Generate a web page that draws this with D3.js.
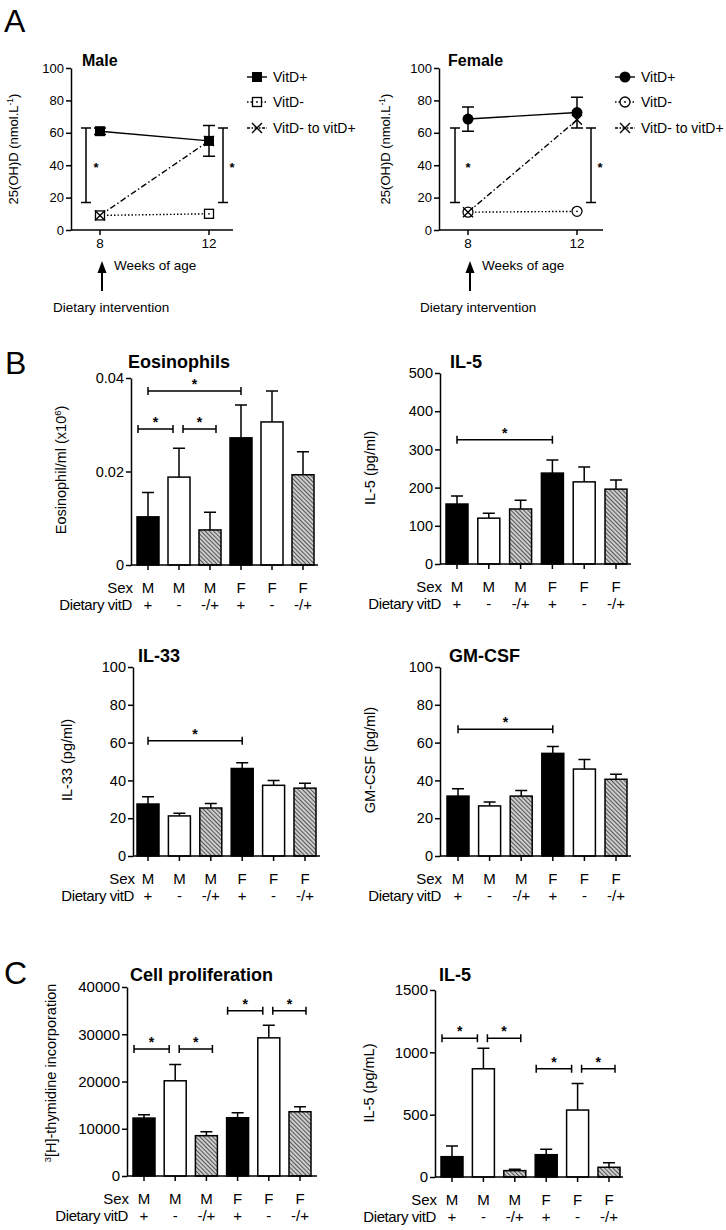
<!DOCTYPE html>
<html><head><meta charset="utf-8">
<script src="https://cdn.jsdelivr.net/npm/d3@7"></script>
<style>
body{margin:0;background:#fff}
svg{display:block}
text{font-family:"Liberation Sans",Arial,Helvetica,sans-serif;fill:#000}
</style>
</head><body>
<svg id="c" width="726" height="1230"></svg>
<script>
// ---------------- DATA ----------------
const weeks = [8, 12];
const maleVitDPlus = [61, 55];
const maleVitDPlusSem = [2, 9.5];
const maleVitDMinus = [9, 10];
const maleSwitch = [9, 55];
const femaleVitDPlus = [68.5, 72.5];
const femaleVitDPlusSem = [7.5, 9.5];
const femaleVitDMinus = [11, 11.5];
const femaleSwitch = [11, 68];
const sigRangeA = [17, 63];
const legendLabels = ["VitD+", "VitD-", "VitD- to vitD+"];
const ticksA = [0, 20, 40, 60, 80, 100];

const sexLabels = ["M", "M", "M", "F", "F", "F"];
const dietLabels = ["+", "-", "-/+", "+", "-", "-/+"];

const eosMean = [0.0103, 0.0188, 0.0075, 0.0272, 0.0306, 0.0193];
const eosSem  = [0.0052, 0.0062, 0.0038, 0.0070, 0.0066, 0.0049];
const eosSig  = [[0, 3, 0.0372], [0, 1, 0.0291], [1, 2, 0.0291]];
const eosTicks = [0, 0.02, 0.04];

const il5Mean = [157, 120, 144, 238, 215, 196];
const il5Sem  = [21, 13, 23, 34, 39, 24];
const il5Sig  = [[0, 3, 325]];
const il5Ticks = [0, 100, 200, 300, 400, 500];

const il33Mean = [27.5, 21.2, 25.4, 46.3, 37.4, 35.9];
const il33Sem  = [3.8, 1.4, 2.4, 3.1, 2.6, 2.6];
const il33Sig  = [[0, 3, 61]];
const il33Ticks = [0, 20, 40, 60, 80, 100];

const gmMean = [31.7, 26.5, 31.7, 54.3, 46.0, 40.6];
const gmSem  = [3.9, 2.1, 3.0, 3.7, 5.0, 2.6];
const gmSig  = [[0, 3, 67]];
const gmTicks = [0, 20, 40, 60, 80, 100];

const prolifMean = [12260, 20150, 8530, 12330, 29240, 13600];
const prolifSem  = [700, 3450, 840, 1050, 2680, 1050];
const prolifSig  = [[0, 1, 26900], [1, 2, 26900], [3, 4, 34950], [4, 5, 34950]];
const prolifTicks = [0, 10000, 20000, 30000, 40000];

const il5cMean = [163, 868, 51, 179, 537, 78];
const il5cSem  = [85, 164, 11, 43, 214, 37];
const il5cSig  = [[0, 1, 1112], [1, 2, 1112], [3, 4, 868], [4, 5, 868]];
const il5cTicks = [0, 500, 1000, 1500];

// ---------------- DRAWING ----------------
const svg = d3.select("#c");
const defs = svg.append("defs");
const pat = defs.append("pattern").attr("id", "hatch")
  .attr("patternUnits", "userSpaceOnUse").attr("width", 3).attr("height", 3)
  .attr("patternTransform", "rotate(-45)");
pat.append("rect").attr("width", 3).attr("height", 3).attr("fill", "#cfcfcf");
pat.append("line").attr("x1", 0.5).attr("y1", 0).attr("x2", 0.5).attr("y2", 3)
  .attr("stroke", "#555").attr("stroke-width", 1.1);

const SW = 1.5;

function panelLetter(t, x, y) {
  svg.append("text").attr("x", x).attr("y", y).attr("font-size", 32).text(t);
}

function yLabel(g, x, y, parts, size) {
  const t = g.append("text").attr("transform", `translate(${x},${y}) rotate(-90)`)
    .attr("text-anchor", "middle").attr("font-size", size);
  parts.forEach(p => {
    const s = t.append("tspan").text(p.t);
    if (p.sup) s.attr("font-size", size * 0.65).attr("baseline-shift", "super");
  });
}

function styleAxis(g, fs) {
  g.selectAll(".domain").attr("stroke", "#000").attr("stroke-width", SW);
  g.selectAll(".tick line").attr("stroke", "#000").attr("stroke-width", SW);
  g.selectAll(".tick text").attr("font-size", fs).attr("fill", "#000")
    .attr("font-family", '"Liberation Sans",Arial,sans-serif');
}

function marker(g, type, cx, cy) {
  if (type === "fsquare") {
    g.append("rect").attr("x", cx - 5).attr("y", cy - 5).attr("width", 10).attr("height", 10).attr("fill", "#000");
  } else if (type === "osquare") {
    g.append("rect").attr("x", cx - 4.5).attr("y", cy - 4.5).attr("width", 9).attr("height", 9)
      .attr("fill", "#fff").attr("stroke", "#000").attr("stroke-width", 1.3);
    g.append("circle").attr("cx", cx).attr("cy", cy).attr("r", 0.9).attr("fill", "#000");
  } else if (type === "fcircle") {
    g.append("circle").attr("cx", cx).attr("cy", cy).attr("r", 5.5).attr("fill", "#000");
  } else if (type === "ocircle") {
    g.append("circle").attr("cx", cx).attr("cy", cy).attr("r", 5).attr("fill", "#fff")
      .attr("stroke", "#000").attr("stroke-width", 1.3);
    g.append("circle").attr("cx", cx).attr("cy", cy).attr("r", 0.9).attr("fill", "#000");
  } else if (type === "cross") {
    g.append("path").attr("d", `M${cx-5},${cy-5}L${cx+5},${cy+5}M${cx-5},${cy+5}L${cx+5},${cy-5}`)
      .attr("stroke", "#000").attr("stroke-width", 1.4).attr("fill", "none");
  }
}

const dashStyles = [null, "1.5,2", "6,2.5,1.5,2.5"];

function lineChart(o) {
  const g = svg.append("g");
  const x = d3.scaleLinear().domain([weeks[0], weeks[1]]).range([o.x8, o.x12]);
  const y = d3.scaleLinear().domain([0, 100]).range([230, 68]);
  const ya = g.append("g").attr("transform", `translate(${o.axisX},0)`)
    .call(d3.axisLeft(y).tickValues(ticksA).tickSize(5).tickSizeOuter(0).tickPadding(2));
  styleAxis(ya, 13);
  g.append("line").attr("x1", o.axisX).attr("x2", o.xEnd).attr("y1", y(0)).attr("y2", y(0))
    .attr("stroke", "#000").attr("stroke-width", SW);
  weeks.forEach(w => {
    g.append("line").attr("x1", x(w)).attr("x2", x(w)).attr("y1", y(0)).attr("y2", y(0) + 5)
      .attr("stroke", "#000").attr("stroke-width", SW);
    g.append("text").attr("x", x(w)).attr("y", 248).attr("text-anchor", "middle")
      .attr("font-size", 13.5).text(w);
  });
  g.append("text").attr("x", o.titleX).attr("y", 66).attr("font-size", 16)
    .attr("font-weight", "bold").text(o.title);
  yLabel(g, o.ylabelX, 149, [{t: "25(OH)D (nmol.L"}, {t: "-1", sup: true}, {t: ")"}], 13);

  weeks.forEach((w, i) => {
    const m = o.plus[i], e = o.plusSem[i];
    g.append("path").attr("d",
      `M${x(w)},${y(m - e)}V${y(m + e)}M${x(w)-6},${y(m + e)}H${x(w)+6}M${x(w)-6},${y(m - e)}H${x(w)+6}`)
      .attr("stroke", "#000").attr("stroke-width", SW).attr("fill", "none");
  });
  const series = [o.plus, o.minus, o.sw];
  const line = d3.line().x((d, i) => x(weeks[i])).y(d => y(d));
  series.forEach((s, k) => {
    const p = g.append("path").attr("d", line(s)).attr("fill", "none")
      .attr("stroke", "#000").attr("stroke-width", 1.4);
    if (dashStyles[k]) p.attr("stroke-dasharray", dashStyles[k]);
  });
  const mtypes = [o.mPlus, o.mMinus, "cross"];
  [1, 2, 0].forEach(k => {
    series[k].forEach((v, i) => marker(g, mtypes[k], x(weeks[i]), y(v)));
  });
  [o.brL, o.brR].forEach(bx => {
    g.append("path").attr("d",
      `M${bx},${y(sigRangeA[0])}V${y(sigRangeA[1])}M${bx-5},${y(sigRangeA[0])}H${bx+5}M${bx-5},${y(sigRangeA[1])}H${bx+5}`)
      .attr("stroke", "#000").attr("stroke-width", SW).attr("fill", "none");
  });
  [o.stL, o.stR].forEach(sx => {
    g.append("text").attr("x", sx).attr("y", y(40) + 7).attr("text-anchor", "middle")
      .attr("font-size", 13).attr("font-weight", "bold").text("*");
  });
  legendLabels.forEach((lab, k) => {
    const ly = [77, 102, 128][k];
    const l = g.append("line").attr("x1", o.legX).attr("x2", o.legX + 20).attr("y1", ly).attr("y2", ly)
      .attr("stroke", "#000").attr("stroke-width", 1.4);
    if (dashStyles[k]) l.attr("stroke-dasharray", k === 1 ? "1.5,2" : "3,1.5,1.5,1.5");
    marker(g, mtypes[k], o.legX + 10, ly);
    g.append("text").attr("x", o.legX + 26).attr("y", ly + 5).attr("font-size", 14).text(lab);
  });
  const ax = o.arrowX;
  g.append("line").attr("x1", ax).attr("x2", ax).attr("y1", 291).attr("y2", 270)
    .attr("stroke", "#000").attr("stroke-width", 2);
  g.append("path").attr("d", `M${ax},261L${ax-4.5},273L${ax+4.5},273Z`).attr("fill", "#000");
  g.append("text").attr("x", ax + 12).attr("y", 270).attr("font-size", 13.5).text("Weeks of age");
  g.append("text").attr("x", o.dietX).attr("y", 312).attr("font-size", 13.5).text("Dietary intervention");
}

function barChart(o) {
  const g = svg.append("g");
  const x = d3.scalePoint().domain(d3.range(o.mean.length)).range([o.c0, o.c1]);
  const y = d3.scaleLinear().domain([0, o.ticks[o.ticks.length - 1]]).range([o.y0, o.y1]);
  const bw = 22;
  const ya = g.append("g").attr("transform", `translate(${o.axisX},0)`)
    .call(d3.axisLeft(y).tickValues(o.ticks).tickSize(5).tickSizeOuter(0).tickPadding(2)
      .tickFormat(o.fmt || d3.format("d")));
  styleAxis(ya, o.tickFs);
  const fillOf = d => d === "+" ? "#000" : (d === "-" ? "#fff" : "url(#hatch)");
  o.mean.forEach((m, i) => {
    const cx = x(i), top = y(m + o.sem[i]);
    g.append("path").attr("d", `M${cx},${y(m)}V${top}M${cx-6},${top}H${cx+6}`)
      .attr("stroke", "#000").attr("stroke-width", SW).attr("fill", "none");
  });
  g.selectAll("rect.bar").data(o.mean).enter().append("rect")
    .attr("x", (d, i) => x(i) - bw / 2).attr("width", bw)
    .attr("y", d => y(d)).attr("height", d => y(0) - y(d))
    .attr("fill", (d, i) => fillOf(dietLabels[i]))
    .attr("stroke", "#000").attr("stroke-width", SW);
  g.append("line").attr("x1", o.axisX).attr("x2", o.xEnd).attr("y1", y(0)).attr("y2", y(0))
    .attr("stroke", "#000").attr("stroke-width", SW);
  o.mean.forEach((m, i) => {
    g.append("line").attr("x1", x(i)).attr("x2", x(i)).attr("y1", y(0)).attr("y2", y(0) + 5)
      .attr("stroke", "#000").attr("stroke-width", SW);
    g.append("text").attr("x", x(i)).attr("y", y(0) + 28).attr("text-anchor", "middle")
      .attr("font-size", 15).text(sexLabels[i]);
    g.append("text").attr("x", x(i)).attr("y", y(0) + 45).attr("text-anchor", "middle")
      .attr("font-size", 15).text(dietLabels[i]);
  });
  g.append("text").attr("x", o.axisX + 2).attr("y", y(0) + 28).attr("text-anchor", "end")
    .attr("font-size", 15).text("Sex");
  g.append("text").attr("x", o.axisX + 1).attr("y", y(0) + 45).attr("text-anchor", "end")
    .attr("font-size", 15).attr("letter-spacing", -0.4).text("Dietary vitD");
  g.append("text").attr("x", o.titleX).attr("y", o.titleY).attr("font-size", 18)
    .attr("font-weight", "bold").text(o.title);
  yLabel(g, o.ylx, o.yly, o.ylabel, 14.5);
  o.sig.forEach(([a, b, v]) => {
    let xa = x(a), xb = x(b);
    if (b - a === 1) {
      const sharedRight = o.sig.some(s => s[0] === b && s[1] - s[0] === 1);
      if (sharedRight) { xa -= 10; xb -= 6; } else { xa += 4; xb += 6; }
    }
    const yy = y(v);
    g.append("path").attr("d", `M${xa},${yy}H${xb}M${xa},${yy-4}V${yy+4}M${xb},${yy-4}V${yy+4}`)
      .attr("stroke", "#000").attr("stroke-width", SW).attr("fill", "none");
    g.append("text").attr("x", (xa + xb) / 2).attr("y", yy - 2).attr("text-anchor", "middle")
      .attr("font-size", 14).attr("font-weight", "bold").text("*");
  });
}

// ---- Panel A ----
panelLetter("A", 4, 32);
lineChart({title: "Male", titleX: 82, axisX: 71, x8: 100, x12: 209, xEnd: 233,
  plus: maleVitDPlus, plusSem: maleVitDPlusSem, minus: maleVitDMinus, sw: maleSwitch,
  mPlus: "fsquare", mMinus: "osquare", brL: 86, brR: 223, stL: 96, stR: 232,
  legX: 247, ylabelX: 18, arrowX: 102, dietX: 53});
lineChart({title: "Female", titleX: 448, axisX: 439, x8: 468, x12: 577, xEnd: 603,
  plus: femaleVitDPlus, plusSem: femaleVitDPlusSem, minus: femaleVitDMinus, sw: femaleSwitch,
  mPlus: "fcircle", mMinus: "ocircle", brL: 455, brR: 591, stL: 468, stR: 600,
  legX: 615, ylabelX: 390, arrowX: 470, dietX: 420});

// ---- Panel B ----
panelLetter("B", 5, 374);
barChart({title: "Eosinophils", titleX: 128, titleY: 368, axisX: 131, xEnd: 318, c0: 148, c1: 303,
  y0: 565, y1: 378, ticks: eosTicks, fmt: d => d === 0 ? "0" : d3.format(".2f")(d), tickFs: 14.5,
  mean: eosMean, sem: eosSem, sig: eosSig, ylx: 66, yly: 470,
  ylabel: [{t: "Eosinophil/ml (x10"}, {t: "6", sup: true}, {t: ")"}]});
barChart({title: "IL-5", titleX: 450, titleY: 368, axisX: 440, xEnd: 631, c0: 457, c1: 616,
  y0: 564, y1: 373, ticks: il5Ticks, tickFs: 14.5,
  mean: il5Mean, sem: il5Sem, sig: il5Sig, ylx: 375, yly: 468,
  ylabel: [{t: "IL-5 (pg/ml)"}]});
barChart({title: "IL-33", titleX: 138, titleY: 662, axisX: 133, xEnd: 320, c0: 148, c1: 305,
  y0: 856, y1: 667, ticks: il33Ticks, tickFs: 14.5,
  mean: il33Mean, sem: il33Sem, sig: il33Sig, ylx: 72, yly: 760,
  ylabel: [{t: "IL-33 (pg/ml)"}]});
barChart({title: "GM-CSF", titleX: 449, titleY: 662, axisX: 440, xEnd: 631, c0: 458, c1: 616,
  y0: 856, y1: 667, ticks: gmTicks, tickFs: 14.5,
  mean: gmMean, sem: gmSem, sig: gmSig, ylx: 375, yly: 760,
  ylabel: [{t: "GM-CSF (pg/ml)"}]});

// ---- Panel C ----
panelLetter("C", 4, 984);
barChart({title: "Cell proliferation", titleX: 130, titleY: 981, axisX: 127, xEnd: 317, c0: 144, c1: 300,
  y0: 1176, y1: 987, ticks: prolifTicks, tickFs: 15,
  mean: prolifMean, sem: prolifSem, sig: prolifSig, ylx: 56, yly: 1073,
  ylabel: [{t: "3", sup: true}, {t: "[H]-thymidine incorporation"}]});
barChart({title: "IL-5", titleX: 439, titleY: 981, axisX: 435, xEnd: 623, c0: 452, c1: 609,
  y0: 1177, y1: 990, ticks: il5cTicks, tickFs: 15,
  mean: il5cMean, sem: il5cSem, sig: il5cSig, ylx: 374, yly: 1083,
  ylabel: [{t: "IL-5 (pg/mL)"}]});
</script>
</body></html>
